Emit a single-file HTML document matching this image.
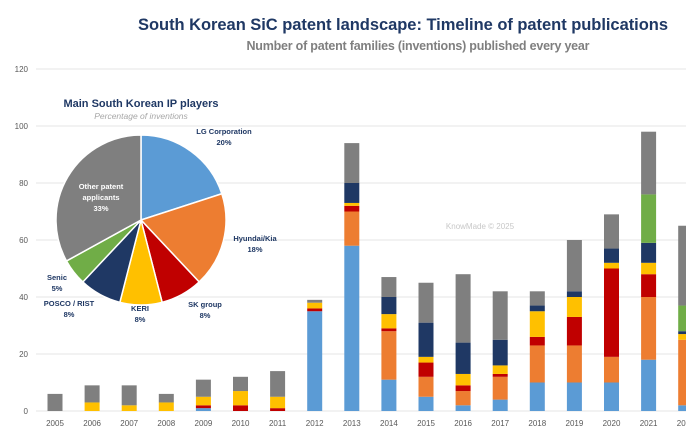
<!DOCTYPE html>
<html><head><meta charset="utf-8"><style>
body{margin:0;background:#fff;width:686px;height:440px;overflow:hidden;font-family:"Liberation Sans",sans-serif}
</style></head><body>
<svg id="chart" width="686" height="440" viewBox="0 0 686 440" xmlns="http://www.w3.org/2000/svg">
<text x="403" y="30" text-anchor="middle" font-size="16.5" font-weight="bold" fill="#1f3864" textLength="530">South Korean SiC patent landscape: Timeline of patent publications</text>
<text x="418" y="50" text-anchor="middle" font-size="12.5" font-weight="bold" fill="#7f7f7f" textLength="343">Number of patent families (inventions) published every year</text>
<text x="480" y="229" text-anchor="middle" font-size="8" fill="#c8c8c8">KnowMade © 2025</text>
<g id="grid"></g><g id="bars"></g><g id="pie"></g>
</svg>
<script>
const years=['2005','2006','2007','2008','2009','2010','2011','2012','2013','2014','2015','2016','2017','2018','2019','2020','2021','2022'];
const lg     =[0,0,0,0,1,0,0,35,58,11,5,2,4,10,10,10,18,2];
const hyundai=[0,0,0,0,0,0,0,0,12,17,7,5,8,13,13,9,22,23];
const sk     =[0,0,0,0,1,2,1,1,2,1,5,2,1,3,10,31,8,0];
const keri   =[0,3,2,3,3,5,4,2,1,5,2,4,3,9,7,2,4,2];
const posco  =[0,0,0,0,0,0,0,0,7,6,12,11,9,2,2,5,7,1];
const senic  =[0,0,0,0,0,0,0,0,0,0,0,0,0,0,0,0,17,9];
const other  =[6,6,7,3,6,5,9,1,14,7,14,24,17,5,18,12,22,28];
const yTicks=[0,20,40,60,80,100,120];
const pieLabels=['LG Corporation','Hyundai/Kia','SK group','KERI','POSCO / RIST','Senic','Other patent applicants'];
const pieValues=[20,18,8,8,8,5,33];
const series=[lg,hyundai,sk,keri,posco,senic,other];
const names=['lg','hyundai','sk','keri','posco','senic','other'];
const colors=['#5b9bd5','#ed7d31','#c00000','#ffc000','#1f3864','#70ad47','#7f7f7f'];
const NS='http://www.w3.org/2000/svg';
function yS(v){return 411-v*2.85;}
function xS(i){return 55+i*37.1;}
function mk(t,a,p){const e=document.createElementNS(NS,t);for(const k in a)e.setAttribute(k,a[k]);p.appendChild(e);return e;}
const grid=document.getElementById('grid');
yTicks.forEach(t=>{
  const l=mk('line',{x1:36,x2:686,y1:yS(t),y2:yS(t),stroke:'#e4e4e4','stroke-width':1},grid);
  
  
  const tx=mk('text',{x:28,y:yS(t)+3,'text-anchor':'end','font-size':8,fill:'#595959'},grid);
  tx.textContent=t;
  
  
});
const bars=document.getElementById('bars');
years.forEach((y,i)=>{
  let acc=0;
  series.forEach((s,k)=>{
    const v=s[i]; if(!v) return;
    const r=mk('rect',{x:xS(i)-7.5,width:15,y:yS(acc+v),height:v*2.85,fill:colors[k]},bars);
    
    
    acc+=v;
  });
  const tx=mk('text',{x:xS(i),y:426,'text-anchor':'middle','font-size':8,fill:'#595959'},bars);
  tx.textContent=y;
  
  
});
const pie=document.getElementById('pie');
const cx=141,cy=220,R=85;
const pt=mk('text',{x:141,y:107,'text-anchor':'middle','font-size':11,'font-weight':'bold',fill:'#1f3864'},pie);
pt.textContent='Main South Korean IP players';


const ps=mk('text',{x:141,y:119,'text-anchor':'middle','font-size':8.5,'font-style':'italic',fill:'#a6a6a6'},pie);
ps.textContent='Percentage of inventions';


const total=pieValues.reduce((a,b)=>a+b,0);
let ang=0;
const labelPos=[[224,134,'#1f3864'],[255,241,'#1f3864'],[205,307,'#1f3864'],[140,311,'#1f3864'],[69,306,'#1f3864'],[57,280,'#1f3864'],[101,189,'#fff']];
pieValues.forEach((v,k)=>{
  const a0=ang,a1=ang+v/total*2*Math.PI;ang=a1;
  const x0=cx+R*Math.sin(a0),y0=cy-R*Math.cos(a0),x1=cx+R*Math.sin(a1),y1=cy-R*Math.cos(a1);
  const large=(a1-a0)>Math.PI?1:0;
  const p=mk('path',{d:`M${cx},${cy}L${x0},${y0}A${R},${R} 0 ${large} 1 ${x1},${y1}Z`,fill:colors[k],stroke:'#fff','stroke-width':1.5},pie);
  
  
  const [lx,ly,lc]=labelPos[k];
  const t=mk('text',{x:lx,y:ly,'text-anchor':'middle','font-size':7.5,'font-weight':'bold',fill:lc},pie);
  
  
  const words=k===6?['Other patent','applicants']:[pieLabels[k]];
  words.concat([v+'%']).forEach((w,j)=>{const ts=mk('tspan',{x:lx,dy:j?11:0},t);ts.textContent=w;});
});
</script>
</body></html>
